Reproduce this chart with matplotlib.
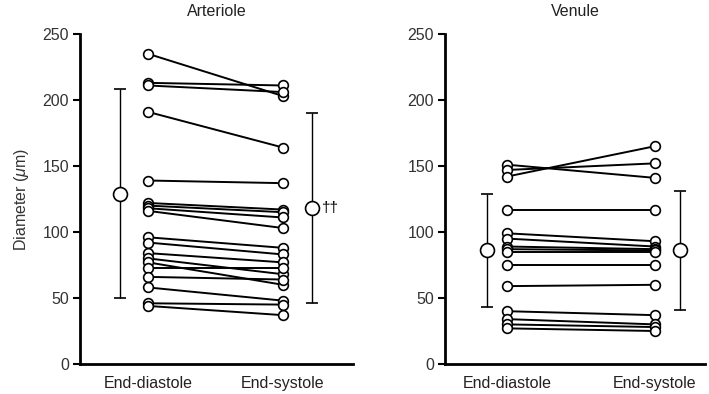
import matplotlib
matplotlib.use("Agg")
import matplotlib.pyplot as plt

plt.rcParams['font.family'] = ['Liberation Sans', 'DejaVu Sans']
plt.rcParams['mathtext.fontset'] = 'custom'
plt.rcParams['mathtext.it'] = 'Liberation Sans:italic'
plt.rcParams['mathtext.rm'] = 'Liberation Sans'

categories = ['End-diastole', 'End-systole']

# Arteriole pairs (diastole -> systole), in micrometres
art_dia = [235, 213, 211, 191, 139, 122, 120, 118, 116,
           96, 92, 84, 80, 77, 73, 66, 58, 46, 44]
art_sys = [203, 211, 206, 164, 137, 117, 115, 111, 103,
           88, 83, 77, 68, 60, 73, 64, 48, 45, 37]
art_mean = [129, 118]
art_sd = [79, 72]

# Venule pairs
ven_dia = [151, 147, 142, 117, 99, 95, 89, 87, 85, 75, 59, 40, 34, 30, 27]
ven_sys = [141, 152, 165, 117, 93, 89, 87, 86, 85, 75, 60, 37, 30, 28, 25]
ven_mean = [86, 86]
ven_sd = [43, 45]


def draw_panel(ax, dia, sys, mean, sd, title, xlim, summary_x):
    for d, s in zip(dia, sys):
        ax.plot([0, 1], [d, s], color='black', lw=1.4, zorder=2)
    ax.plot([0] * len(dia), dia, 'o', mfc='white', mec='black', ms=7, mew=1.2,
            ls='none', zorder=3)
    ax.plot([1] * len(sys), sys, 'o', mfc='white', mec='black', ms=7, mew=1.2,
            ls='none', zorder=3)
    ax.errorbar(summary_x, mean, yerr=sd, fmt='o', mfc='white', mec='black',
                ms=10, mew=1.2, ecolor='black', elinewidth=1.0, capsize=4,
                capthick=1.0, zorder=3)
    ax.set_xlim(*xlim)
    ax.set_ylim(0, 250)
    ax.set_yticks([0, 50, 100, 150, 200, 250])
    ax.set_xticks([0, 1])
    ax.set_xticklabels(categories, fontsize=11.5, color='#222222', va='baseline')
    ax.tick_params(axis='x', length=0, pad=17.5)
    ax.tick_params(axis='y', length=5, width=1.5, labelsize=11.5, pad=3,
                   labelcolor='#333333')
    for side in ['top', 'right']:
        ax.spines[side].set_visible(False)
    ax.spines['left'].set_linewidth(2)
    ax.spines['bottom'].set_linewidth(2)
    ax.set_title(title, fontsize=11.5, pad=13, color='#222222')


fig = plt.figure(figsize=(7.09, 3.94), dpi=100)
ax1 = fig.add_axes([80 / 709, 30 / 394, 273 / 709, 330 / 394])
ax2 = fig.add_axes([445 / 709, 30 / 394, 260 / 709, 330 / 394])

draw_panel(ax1, art_dia, art_sys, art_mean, art_sd, 'Arteriole',
           (-0.504, 1.519), [-0.207, 1.215])
ax1.set_ylabel(r'Diameter ($\mu$m)', fontsize=11.5, labelpad=8, color='#333333')
ax1.text(1.29, art_mean[1], '\u2020\u2020', fontsize=11, va='center', ha='left')

draw_panel(ax2, ven_dia, ven_sys, ven_mean, ven_sd, 'Venule',
           (-0.419, 1.338), [-0.135, 1.169])

fig.savefig('out.png', dpi=100)
